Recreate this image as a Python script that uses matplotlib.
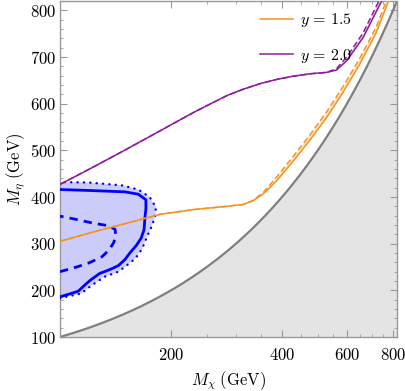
import matplotlib
matplotlib.use("Agg")
import matplotlib.pyplot as plt
import numpy as np
from matplotlib.ticker import FixedLocator, FuncFormatter, NullFormatter
from matplotlib.lines import Line2D

plt.rcParams["mathtext.fontset"] = "cm"
plt.rcParams["font.family"] = ["DejaVu Serif"]

# y = 1.5 (orange): solid and dashed curves
orange_x = [100, 123, 152, 187, 230, 283, 314, 334, 356, 387, 430, 476, 528, 586, 650, 720, 776, 830]
orange_y = [305, 325, 344, 363, 373, 380, 384, 392, 407, 435, 478, 522, 570, 625, 685, 752, 818, 872]
orange_dash_y = [305, 325, 344, 363, 373, 380, 384, 393, 410, 443, 488, 533, 582, 637, 697, 764, 830, 884]

# y = 2.0 (purple): solid and dashed curves
purple_x = [100, 123, 152, 187, 230, 255, 283, 314, 349, 387, 430, 476, 528, 562, 599, 664, 745, 800]
purple_y = [427, 464, 503, 542, 581, 599, 617, 631, 643, 652, 659, 664, 667, 672, 692, 742, 820, 872]
purple_dash_y = [427, 464, 503, 542, 581, 599, 617, 631, 643, 652, 659, 664, 667, 675, 700, 752, 832, 884]

# blue exclusion contours
solid_x = [100, 112, 117, 121, 128, 137, 144, 150, 155, 161, 166, 169, 170, 171, 171, 163, 150, 120, 100]
solid_y = [186, 198, 212, 222, 236, 245, 253, 266, 281, 296, 312, 330, 357, 375, 394, 406, 411, 414, 416]

dashed_x = [100, 111, 120, 130, 136, 140, 141.5, 141, 134, 123, 109, 100]
dashed_y = [240, 250, 259, 272, 287, 303, 320, 331, 339, 344, 353, 359]

dotted_x = [100, 105, 114, 122, 132, 144, 152, 160, 167, 172, 177, 181, 182, 175, 163, 147, 120, 100]
dotted_y = [183, 187, 193, 211, 229, 240, 254, 268, 289, 314, 336, 357, 378, 400, 416, 425, 431, 432]

x_major = [200, 400, 600, 800]
x_minor = [250, 300, 350, 450, 500, 550, 650, 700, 750]
y_major = [100, 200, 300, 400, 500, 600, 700, 800]

orange = "#f7931e"
purple = "#8e1f9a"
blue = "#0000ff"

fig = plt.figure(figsize=(4.06, 3.91), dpi=100)
ax = fig.add_axes([60 / 406, 1 - 337 / 391, 337 / 406, 336 / 391])
ax.set_xscale("log")
ax.set_xlim(100, 820)
ax.set_ylim(100, 820)

# kinematic boundary M_eta = M_chi (identity line, needs many points on log axis)
diag = np.geomspace(100, 820, 200)
ax.fill_between(diag, 100, diag, color="#e4e4e4", lw=0, zorder=1)
ax.plot(diag, diag, color="#7f7f7f", lw=1.6, zorder=2)

# blue region
ax.fill(dotted_x, dotted_y, color="#ccccfb", lw=0, zorder=2)
ax.plot(dotted_x, dotted_y, color=blue, lw=1.7, ls=(0, (0.1, 2.6)), dash_capstyle="round", zorder=4)
ax.plot(solid_x, solid_y, color=blue, lw=2, zorder=4)
ax.plot(dashed_x, dashed_y, color=blue, lw=2, ls=(0, (3, 2.2)), zorder=4)

# coupling curves
ax.fill_between(orange_x, orange_y, orange_dash_y, color="#fde3c8", lw=0, zorder=3)
ax.plot(orange_x, orange_y, color=orange, lw=1.1, zorder=5)
ax.plot(orange_x, orange_dash_y, color=orange, lw=1.1, ls=(0, (4, 2)), zorder=5)
ax.fill_between(purple_x, purple_y, purple_dash_y, color="#ead0ee", lw=0, zorder=3)
ax.plot(purple_x, purple_y, color=purple, lw=1.1, zorder=5)
ax.plot(purple_x, purple_dash_y, color=purple, lw=1.1, ls=(0, (4, 2)), zorder=5)

# ticks
ax.xaxis.set_major_locator(FixedLocator(x_major))
ax.xaxis.set_minor_locator(FixedLocator(x_minor))
ax.xaxis.set_major_formatter(FuncFormatter(lambda v, p: r"$%d$" % v))
ax.xaxis.set_minor_formatter(NullFormatter())
ax.yaxis.set_major_locator(FixedLocator(y_major))
ax.yaxis.set_minor_locator(FixedLocator(np.arange(100, 821, 20)))
ax.yaxis.set_major_formatter(FuncFormatter(lambda v, p: r"$%d$" % v))
ax.tick_params(which="both", direction="in", top=True, right=True, color="#999999", labelsize=12)
ax.tick_params(which="major", length=5, width=0.8)
ax.tick_params(which="minor", length=2.5, width=0.6)
ax.tick_params(axis="x", pad=7)
ax.tick_params(axis="y", pad=3)
for s in ax.spines.values():
    s.set_color("#999999")
    s.set_linewidth(1.0)

ax.set_xlabel(r"$M_\chi\;(\mathrm{GeV})$", fontsize=12, labelpad=4)
ax.set_ylabel(r"$M_\eta\;(\mathrm{GeV})$", fontsize=12, labelpad=2)

handles = [Line2D([], [], color=orange, lw=1.1), Line2D([], [], color=purple, lw=1.1)]
ax.legend(handles, [r"$y\,=\,1.5$", r"$y\,=\,2.0$"], loc="upper left", bbox_to_anchor=(0.55, 1.012),
          frameon=False, fontsize=11.5, handlelength=2.1, handletextpad=0.45, labelspacing=1.1)

fig.savefig("out.png", dpi=100)
